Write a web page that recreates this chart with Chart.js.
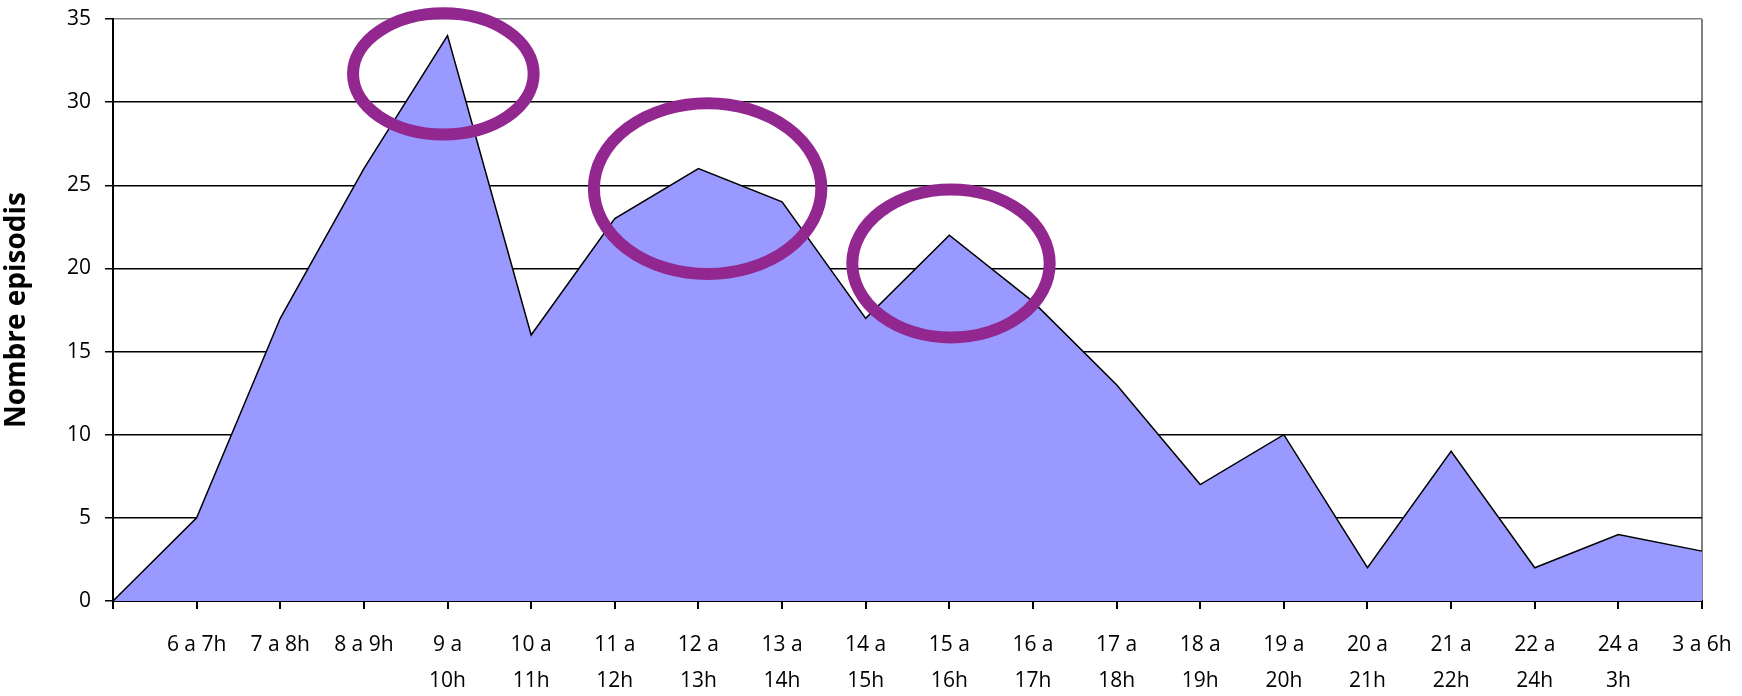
<!DOCTYPE html>
<html>
<head>
<meta charset="utf-8">
<script src="https://cdn.jsdelivr.net/npm/chart.js@4"></script>
<style>
  body { margin: 0; background: #ffffff; }
  canvas { display: block; }
</style>
</head>
<body>
<canvas id="episodesChart" width="1742" height="696"></canvas>
<script>
// franges horaries (first tick sits on the y axis, no label)
var hourLabels = ['', '6 a 7h', '7 a 8h', '8 a 9h', ['9 a', '10h'], ['10 a', '11h'], ['11 a', '12h'],
  ['12 a', '13h'], ['13 a', '14h'], ['14 a', '15h'], ['15 a', '16h'], ['16 a', '17h'], ['17 a', '18h'],
  ['18 a', '19h'], ['19 a', '20h'], ['20 a', '21h'], ['21 a', '22h'], ['22 a', '24h'], ['24 a', '3h'], '3 a 6h'];
var episodes = [0, 5, 17, 26, 34, 16, 23, 26, 24, 17, 22, 18, 13, 7, 10, 2, 9, 2, 4, 3];

// highlighted peaks: centre (category index, value) and radii in data units
var peakX = [3.95, 7.11, 10.02];
var peakY = [31.7, 24.8, 20.3];
var peakRx = [1.08, 1.36, 1.18];
var peakRy = [3.64, 5.14, 4.45];

var yMax = 35;
var yStep = 5;

var fontFamily = "'Open Sans', 'DejaVu Sans', sans-serif";

// draws the purple rings round the peaks
var peakRings = {
  id: 'peakRings',
  afterDatasetsDraw: function(chart) {
    var ctx = chart.ctx;
    var xs = chart.scales.x;
    var ys = chart.scales.y;
    ctx.save();
    ctx.strokeStyle = '#92278f';
    ctx.lineWidth = 12;
    for (var i = 0; i < peakX.length; i++) {
      var cx = xs.getPixelForValue(peakX[i]);
      var cy = ys.getPixelForValue(peakY[i]);
      var rx = Math.abs(xs.getPixelForValue(peakX[i] + peakRx[i]) - cx);
      var ry = Math.abs(ys.getPixelForValue(peakY[i] + peakRy[i]) - cy);
      ctx.beginPath();
      ctx.ellipse(cx, cy, rx, ry, 0, 0, Math.PI * 2);
      ctx.stroke();
    }
    ctx.restore();
  }
};

var ctx = document.getElementById('episodesChart').getContext('2d');
var episodesChart = new Chart(ctx, {
  type: 'line',
  data: {
    labels: hourLabels,
    datasets: [{
      label: 'Episodis',
      data: episodes,
      backgroundColor: '#9999ff',
      borderColor: '#000000',
      borderWidth: 1.5,
      pointRadius: 0,
      tension: 0,
      fill: 'origin'
    }]
  },
  options: {
    responsive: false,
    animation: false,
    layout: {
      padding: { left: 0, right: 40, top: 19, bottom: 0 }
    },
    plugins: {
      legend: { display: false },
      tooltip: { enabled: false }
    },
    scales: {
      x: {
        offset: false,
        grid: {
          offset: false,
          color: function(c) { return c.index === hourLabels.length - 1 ? '#808080' : 'rgba(0,0,0,0)'; },
          lineWidth: 2,
          tickColor: '#000000',
          tickLength: 8
        },
        border: { color: '#000000', width: 2 },
        ticks: {
          autoSkip: false,
          maxRotation: 0,
          padding: 18,
          color: '#000000',
          font: { family: fontFamily, size: 21, lineHeight: 1.7 }
        },
        afterFit: function(scale) {
          scale.height = 95;
          scale.paddingLeft = 0;
          scale.paddingRight = 0;
        }
      },
      y: {
        min: 0,
        max: yMax,
        grid: {
          color: function(c) { return c.tick && c.tick.value === yMax ? '#808080' : '#000000'; },
          lineWidth: 1.5,
          tickColor: '#000000',
          tickLength: 8
        },
        border: { color: '#000000', width: 2 },
        ticks: {
          stepSize: yStep,
          padding: 14,
          color: '#000000',
          font: { family: fontFamily, size: 21 }
        },
        title: {
          display: true,
          text: 'Nombre episodis',
          color: '#000000',
          padding: { top: 0, bottom: 0 },
          font: { family: fontFamily, size: 28, weight: 'bold' }
        },
        afterFit: function(scale) {
          scale.width = 113;
          scale.paddingTop = 0;
          scale.paddingBottom = 0;
        }
      }
    }
  },
  plugins: [peakRings]
});
</script>
</body>
</html>
